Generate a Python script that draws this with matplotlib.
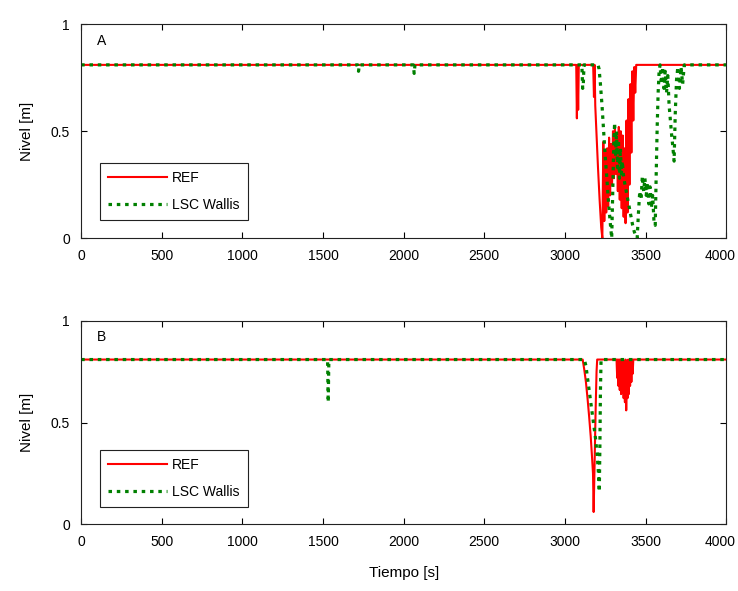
import matplotlib
matplotlib.use('Agg')
import matplotlib.pyplot as plt
import matplotlib.transforms as mtransforms

plt.rcParams['font.family'] = ['Liberation Sans', 'DejaVu Sans']

# Panel A: REF (red) and LSC Wallis (green)
ta_ref = [0, 3070, 3074, 3078, 3082, 3086, 3090, 3175, 3180, 3184, 3188, 3195, 3205, 3215, 3225,
          3232, 3238, 3244, 3250, 3256, 3262, 3268, 3274, 3280, 3286, 3292, 3298, 3304, 3310,
          3316, 3322, 3328, 3334, 3340, 3346, 3352, 3358, 3364, 3370, 3376, 3382, 3388, 3394,
          3400, 3406, 3412, 3418, 3424, 3430, 3436, 3442, 3448, 4000]
ya_ref = [0.81, 0.81, 0.56, 0.81, 0.60, 0.81, 0.81, 0.81, 0.66, 0.81, 0.62, 0.50, 0.33, 0.18, 0.05,
          0.0, 0.45, 0.08, 0.40, 0.12, 0.42, 0.15, 0.47, 0.20, 0.44, 0.25, 0.50, 0.28, 0.52,
          0.30, 0.48, 0.22, 0.52, 0.18, 0.50, 0.14, 0.48, 0.10, 0.42, 0.07, 0.55, 0.12, 0.65,
          0.25, 0.72, 0.40, 0.78, 0.55, 0.80, 0.68, 0.81, 0.81, 0.81]

ta_lsc = [0, 1715, 1720, 1725, 2060, 2065, 2070, 3105, 3110, 3114, 3118, 3205, 3212, 3220, 3230,
          3240, 3250, 3260, 3270, 3280, 3290, 3296, 3302, 3308, 3314, 3320, 3326, 3332, 3338,
          3344, 3350, 3356, 3362, 3370, 3380, 3390, 3400, 3410, 3420, 3430, 3440, 3448, 3456,
          3464, 3472, 3480, 3488, 3496, 3504, 3512, 3520, 3528, 3536, 3544, 3552, 3560, 3566,
          3572, 3578, 3584, 3590, 3598, 3606, 3614, 3622, 3630, 3638, 3646, 3654, 3662, 3670,
          3677, 3684, 3692, 3700, 3710, 3720, 3730, 3740, 3748, 4000]
ya_lsc = [0.81, 0.81, 0.78, 0.81, 0.81, 0.77, 0.81, 0.81, 0.70, 0.72, 0.81, 0.81, 0.79, 0.72, 0.62,
          0.50, 0.38, 0.28, 0.17, 0.08, 0.0, 0.20, 0.42, 0.54, 0.38, 0.50, 0.33, 0.46, 0.28,
          0.42, 0.30, 0.36, 0.30, 0.26, 0.22, 0.18, 0.14, 0.10, 0.06, 0.03, 0.01, 0.0, 0.12,
          0.22, 0.18, 0.29, 0.22, 0.28, 0.20, 0.26, 0.16, 0.24, 0.14, 0.20, 0.08, 0.06, 0.30,
          0.52, 0.68, 0.78, 0.81, 0.72, 0.80, 0.70, 0.78, 0.68, 0.76, 0.62, 0.55, 0.48, 0.42,
          0.36, 0.58, 0.74, 0.80, 0.70, 0.80, 0.72, 0.81, 0.81, 0.81]

# Panel B
tb_ref = [0, 3110, 3120, 3130, 3140, 3150, 3160, 3168, 3174, 3178, 3184, 3190, 3196, 3200,
          3320, 3324, 3328, 3332, 3336, 3340, 3344, 3348, 3352, 3356, 3360, 3364, 3368, 3372,
          3376, 3380, 3384, 3388, 3392, 3396, 3400, 3404, 3408, 3412, 3416, 3420, 3424, 4000]
yb_ref = [0.81, 0.81, 0.76, 0.70, 0.62, 0.53, 0.43, 0.33, 0.25, 0.06, 0.30, 0.55, 0.75, 0.81,
          0.81, 0.72, 0.81, 0.68, 0.81, 0.66, 0.81, 0.64, 0.80, 0.70, 0.81, 0.62, 0.80, 0.60,
          0.81, 0.56, 0.78, 0.62, 0.81, 0.64, 0.80, 0.68, 0.81, 0.70, 0.81, 0.74, 0.81, 0.81]

tb_lsc = [0, 1528, 1532, 1536, 3120, 3130, 3140, 3150, 3160, 3170, 3180, 3190, 3200, 3208,
          3213, 3217, 3220, 3224, 4000]
yb_lsc = [0.81, 0.81, 0.60, 0.81, 0.81, 0.78, 0.72, 0.66, 0.60, 0.54, 0.48, 0.42, 0.34, 0.25,
          0.16, 0.40, 0.65, 0.81, 0.81]

xticks = [0, 500, 1000, 1500, 2000, 2500, 3000, 3500, 4000]
yticks = [0, 0.5, 1]
yticklabels = ['0', '0.5', '1']

fig = plt.figure(figsize=(7.38, 5.91), dpi=100)
axA = fig.add_axes([0.110, 0.597, 0.874, 0.362])
axB = fig.add_axes([0.110, 0.113, 0.874, 0.344])

panels = [(axA, 'A', ta_ref, ya_ref, ta_lsc, ya_lsc),
          (axB, 'B', tb_ref, yb_ref, tb_lsc, yb_lsc)]

for ax, tag, t1, y1, t2, y2 in panels:
    ax.plot(t1, y1, color='#ff0000', lw=1.5, label='REF')
    ax.plot(t2, y2, color='#008000', lw=2.3, linestyle=(0, (1.1, 1.5)), label='LSC Wallis')
    ax.set_xlim(0, 4000)
    ax.set_ylim(0, 1)
    ax.set_xticks(xticks)
    ax.set_yticks(yticks)
    ax.set_yticklabels(yticklabels)
    ax.tick_params(direction='in', top=True, right=True, length=4, labelsize=10, pad=8)
    for s in ax.spines.values():
        s.set_linewidth(0.8)
        s.set_color('#222222')
    ax.set_ylabel('Nivel [m]', fontsize=11, labelpad=12)
    ax.text(0.025, 0.92, tag, transform=ax.transAxes, fontsize=10, ha='left', va='center')
    leg = ax.legend(loc='lower left', bbox_to_anchor=(0.029, 0.085), borderaxespad=0,
                    fancybox=False, framealpha=1, edgecolor='#222222', fontsize=10,
                    handlelength=4.2, borderpad=0.6, labelspacing=0.9, handletextpad=0.4)
    leg.get_frame().set_linewidth(0.8)
    # shift the last x label a bit left so it stays inside the figure
    last = ax.get_xticklabels()[-1]
    last.set_transform(last.get_transform() +
                       mtransforms.ScaledTranslation(-6 / 100, 0, fig.dpi_scale_trans))

axB.set_xlabel('Tiempo [s]', fontsize=11, labelpad=12)

fig.savefig('out.png', dpi=100)
